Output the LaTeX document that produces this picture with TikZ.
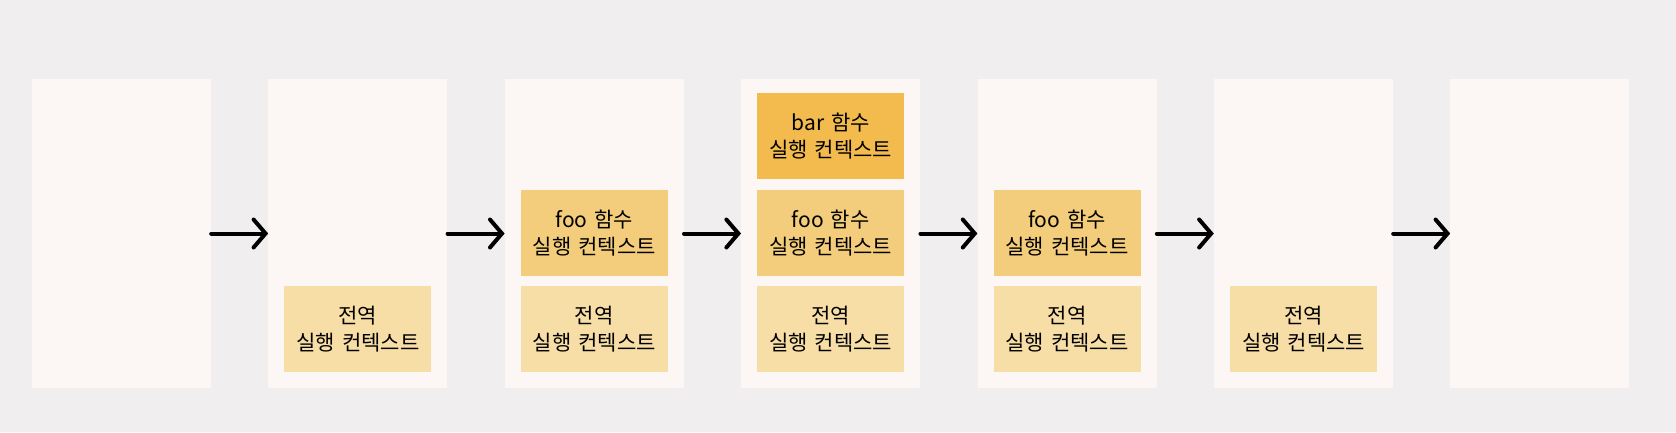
\documentclass[tikz,border=0pt]{standalone}
\usepackage{fontspec}
\setmainfont{Noto Sans CJK KR}
\usepackage{xcolor}
\usepackage{tikz}
\usetikzlibrary{arrows.meta}
\usetikzlibrary{positioning}
\definecolor{bgcol}{HTML}{F0EEEE}
\definecolor{panelcol}{HTML}{FCF6F5}
\definecolor{globalcol}{HTML}{F7DDA6}
\definecolor{foocol}{HTML}{F3CD7B}
\definecolor{barcol}{HTML}{F3BA4E}
\tikzstyle{panel} = [rectangle, minimum width=179pt, minimum height=309pt, inner sep=0pt, fill=panelcol]
\tikzstyle{ctx} = [rectangle, minimum width=147pt, text width=147pt, minimum height=86pt, inner sep=0pt, align=center, font=\fontsize{21}{27}\selectfont]
\tikzstyle{globalctx} = [ctx, fill=globalcol]
\tikzstyle{fooctx} = [ctx, fill=foocol]
\tikzstyle{barctx} = [ctx, fill=barcol]
\tikzstyle{arrow} = [line width=4pt, line cap=round, -{Straight Barb[length=12pt, width=28pt, line cap=round]}, black]

\begin{document}
\begin{tikzpicture}[x=1pt, y=-1pt, node distance=57pt]
    \useasboundingbox [fill=bgcol] (0,0) rectangle (1676,432);
    \node (p1) [panel] at (121.5,233.5) {};
    \node (p2) [panel, right = of p1] {};
    \node (p3) [panel, right = of p2] {};
    \node (p4) [panel, right = of p3] {};
    \node (p5) [panel, right = of p4] {};
    \node (p6) [panel, right = of p5] {};
    \node (p7) [panel, right = of p6] {};
    \node (g2) [globalctx, above = 16pt of p2.south] {전역\\실행 컨텍스트};
    \node (g3) [globalctx, above = 16pt of p3.south] {전역\\실행 컨텍스트};
    \node (f3) [fooctx, above = 10pt of g3] {foo 함수\\실행 컨텍스트};
    \node (g4) [globalctx, above = 16pt of p4.south] {전역\\실행 컨텍스트};
    \node (f4) [fooctx, above = 10pt of g4] {foo 함수\\실행 컨텍스트};
    \node (b4) [barctx, above = 10pt of f4] {bar 함수\\실행 컨텍스트};
    \node (g5) [globalctx, above = 16pt of p5.south] {전역\\실행 컨텍스트};
    \node (f5) [fooctx, above = 10pt of g5] {foo 함수\\실행 컨텍스트};
    \node (g6) [globalctx, above = 16pt of p6.south] {전역\\실행 컨텍스트};
    \draw [arrow] (p1) -- (p2);
    \draw [arrow] (p2) -- (p3);
    \draw [arrow] (p3) -- (p4);
    \draw [arrow] (p4) -- (p5);
    \draw [arrow] (p5) -- (p6);
    \draw [arrow] (p6) -- (p7);
\end{tikzpicture}
\end{document}
